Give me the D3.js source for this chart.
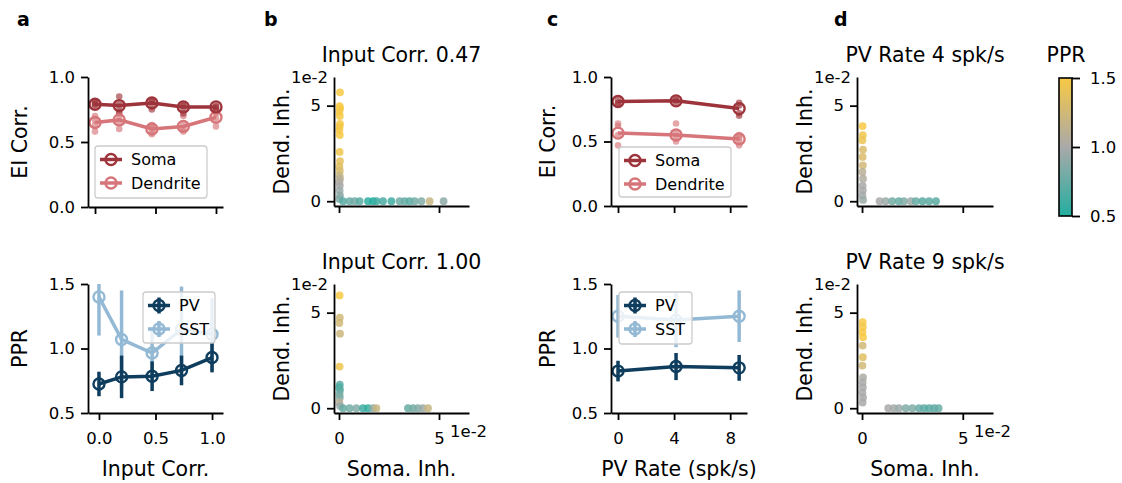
<!DOCTYPE html>
<html>
<head>
<meta charset="utf-8">
<script src="https://cdn.jsdelivr.net/npm/d3@7"></script>
<style>
  body { margin: 0; background: #fff; }
  text { font-family: "DejaVu Sans", sans-serif; fill: #000; }
  .axis path, .axis line { stroke: #000; stroke-width: 1.8; }
  .axis text { font-family: "DejaVu Sans", sans-serif; }
</style>
</head>
<body>
<script>
// ---- panel a: EI correlation / PPR vs input correlation
var inputCorr = [0, 0.2, 0.47, 0.73, 1.0];
var aSomaMean = [0.79, 0.78, 0.80, 0.77, 0.77];
var aDendMean = [0.65, 0.67, 0.60, 0.62, 0.69];
var aSomaTrials = [[0.78, 0.80, 0.81, 0.79], [0.73, 0.77, 0.85, 0.79], [0.75, 0.79, 0.82, 0.81], [0.72, 0.76, 0.78, 0.79], [0.75, 0.77, 0.78, 0.76]];
var aDendTrials = [[0.58, 0.63, 0.67, 0.70], [0.60, 0.66, 0.70, 0.72], [0.56, 0.58, 0.62, 0.63], [0.58, 0.60, 0.64, 0.70], [0.62, 0.68, 0.72, 0.73]];
var aPvMean = [0.725, 0.78, 0.785, 0.83, 0.93];
var aPvErr = [0.095, 0.165, 0.115, 0.115, 0.115];
var aSstMean = [1.40, 1.07, 0.965, 1.15, 1.11];
var aSstErr = [0.30, 0.38, 0.20, 0.33, 0.28];

// ---- panel c: EI correlation / PPR vs PV rate
var pvRate = [0, 4.14, 8.64];
var cSomaMean = [0.81, 0.815, 0.755];
var cDendMean = [0.565, 0.55, 0.52];
var cSomaTrials = [[0.79, 0.82, 0.80], [0.80, 0.83, 0.82], [0.80, 0.70, 0.72, 0.78]];
var cDendTrials = [[0.62, 0.64, 0.47, 0.55], [0.64, 0.50, 0.56, 0.54], [0.47, 0.55, 0.50, 0.53]];
var cPvMean = [0.825, 0.86, 0.85];
var cPvErr = [0.08, 0.105, 0.10];
var cSstMean = [1.25, 1.22, 1.25];
var cSstErr = [0.165, 0.21, 0.20];

// ---- panels b, d: [soma inh, dend inh, ppr] (x1e-2)
var scatterB1 = [[0.05,5.7,1.5],[0.03,4.98,1.5],[0.06,4.86,1.5],[0.02,4.68,1.48],[0.04,4.46,1.5],[0.05,4.04,1.5],[0.03,3.9,1.48],[0.02,3.72,1.48],[0.04,3.46,1.5],[0.03,2.58,1.45],[0.05,2.1,1.38],[0.02,1.82,1.35],[0.04,1.6,1.3],[0.03,1.35,1.2],[0.05,1.18,1.1],[0.02,1.0,1.05],[0.04,0.82,1.0],[0.03,0.56,0.95],[0.05,0.3,0.9],[0.02,0.12,0.85],
  [0.2,0,0.7],[0.53,0,0.75],[0.78,0,0.8],[1.03,0,0.7],[1.45,0,0.55],[1.7,0,0.5],[1.87,0,0.6],[2.2,0,0.65],[2.62,0,0.6],[3.03,0,0.78],[3.28,0,0.75],[3.53,0,0.7],[3.78,0,0.8],[4.12,0,0.85],[4.53,0,1.2],[5.23,0,0.9]];
var scatterB2 = [[0.03,5.9,1.5],[0.04,4.74,1.25],[0.02,4.46,1.25],[0.05,3.9,1.22],[0.03,2.18,1.45],[0.04,1.23,0.7],[0.02,1.09,0.65],[0.05,0.95,0.7],[0.03,0.74,0.8],[0.04,0.56,0.85],[0.02,0.3,1.1],[0.05,0.12,0.95],
  [0.2,0,0.75],[0.53,0,0.8],[0.87,0,0.85],[1.2,0,0.6],[1.45,0,0.55],[1.7,0,0.9],[1.87,0,1.2],[3.45,0,0.75],[3.7,0,0.8],[3.95,0,0.85],[4.2,0,0.95],[4.45,0,1.2]];
var scatterD1 = [[0.03,3.93,1.5],[0.04,3.46,1.45],[0.02,3.19,1.42],[0.05,2.7,1.3],[0.03,2.32,1.3],[0.04,1.88,1.25],[0.02,1.53,1.1],[0.05,1.18,1.05],[0.03,0.82,1.0],[0.04,0.56,1.0],[0.02,0.3,0.98],[0.05,0.07,0.95],
  [0.87,0,1.0],[1.17,0,0.95],[1.5,0,0.8],[1.83,0,0.75],[2.08,0,0.85],[2.42,0,0.95],[2.67,0,0.75],[3.0,0,0.7],[3.33,0,0.72],[3.67,0,0.7]];
var scatterD2 = [[0.03,4.5,1.5],[0.04,4.25,1.48],[0.02,3.98,1.5],[0.05,3.72,1.5],[0.03,3.28,1.25],[0.04,2.67,1.35],[0.02,2.23,1.25],[0.05,1.61,1.02],[0.03,1.35,1.0],[0.04,1.09,1.0],[0.02,0.82,1.0],[0.05,0.56,1.0],[0.03,0.3,1.0],
  [1.3,0,1.0],[1.58,0,0.98],[1.83,0,0.95],[2.17,0,0.85],[2.5,0,0.85],[2.83,0,0.75],[3.08,0,0.72],[3.33,0,0.7],[3.58,0,0.72],[3.8,0,0.75]];

var somaColor = "#9e343b", dendColor = "#d6767a", pvColor = "#0f3d5e", sstColor = "#93b9d5";
var pprColor = d3.scaleLinear().domain([0.5, 1.0, 1.5]).range(["#23ae9f", "#a9a9a9", "#f7c944"]);
var tickFont = 16.5, labelFont = 20.5;

var svg = d3.select("body").append("svg").attr("width", 1122).attr("height", 483);
var defs = svg.append("defs");
var clipN = 0;

function axes(o) {
  var x = d3.scaleLinear().domain(o.xd).range([o.left, o.right]);
  var y = d3.scaleLinear().domain(o.yd).range([o.bottom, o.top]);
  var id = "clip" + (clipN++);
  defs.append("clipPath").attr("id", id).append("rect")
    .attr("x", o.left).attr("y", o.top).attr("width", o.right - o.left).attr("height", o.bottom - o.top);
  var g = svg.append("g");
  var plot = g.append("g");
  var clipped = g.append("g").attr("clip-path", "url(#" + id + ")");
  var xa = d3.axisBottom(x).tickValues(o.xt).tickSize(7).tickSizeOuter(0).tickPadding(12)
    .tickFormat(o.xlab ? o.xf : function () { return ""; });
  g.append("g").attr("class", "axis").attr("transform", "translate(0," + o.bottom + ")").call(xa);
  var ya = d3.axisLeft(y).tickValues(o.yt).tickSize(7).tickSizeOuter(0).tickPadding(6).tickFormat(o.yf);
  g.append("g").attr("class", "axis").attr("transform", "translate(" + o.left + ",0)").call(ya);
  g.selectAll(".axis text").attr("font-size", tickFont);
  if (o.ylabel) {
    g.append("text").attr("transform", "translate(" + o.ylx + "," + (o.top + o.bottom) / 2 + ") rotate(-90)")
      .attr("text-anchor", "middle").attr("font-size", labelFont).text(o.ylabel);
  }
  if (o.xlabel) {
    g.append("text").attr("x", (o.left + o.right) / 2).attr("y", 476)
      .attr("text-anchor", "middle").attr("font-size", labelFont).text(o.xlabel);
  }
  if (o.title) {
    g.append("text").attr("x", (o.left + o.right) / 2).attr("y", o.top - 15)
      .attr("text-anchor", "middle").attr("font-size", labelFont).text(o.title);
  }
  return { x: x, y: y, g: g, plot: plot, clipped: clipped };
}

function corrPanel(ax, xs, somaMean, dendMean, somaTr, dendTr) {
  [[dendTr, dendColor], [somaTr, somaColor]].forEach(function (s) {
    var pts = [];
    s[0].forEach(function (arr, i) { arr.forEach(function (v) { pts.push([xs[i], v]); }); });
    ax.plot.selectAll(null).data(pts).enter().append("circle")
      .attr("cx", function (d) { return ax.x(d[0]); }).attr("cy", function (d) { return ax.y(d[1]); })
      .attr("r", 3.3).attr("fill", s[1]).attr("opacity", 0.65);
  });
  [[dendMean, dendColor], [somaMean, somaColor]].forEach(function (s) {
    var pts = xs.map(function (v, i) { return [v, s[0][i]]; });
    ax.plot.append("path").datum(pts)
      .attr("d", d3.line().x(function (d) { return ax.x(d[0]); }).y(function (d) { return ax.y(d[1]); }))
      .attr("fill", "none").attr("stroke", s[1]).attr("stroke-width", 3.5);
    ax.plot.selectAll(null).data(pts).enter().append("circle")
      .attr("cx", function (d) { return ax.x(d[0]); }).attr("cy", function (d) { return ax.y(d[1]); })
      .attr("r", 5.5).attr("fill", "none").attr("stroke", s[1]).attr("stroke-width", 2.4);
  });
}

function pprPanel(ax, xs, pvM, pvE, sstM, sstE) {
  [[sstM, sstE, sstColor], [pvM, pvE, pvColor]].forEach(function (s) {
    var pts = xs.map(function (v, i) { return [v, s[0][i], s[1][i]]; });
    ax.clipped.selectAll(null).data(pts).enter().append("line")
      .attr("x1", function (d) { return ax.x(d[0]); }).attr("x2", function (d) { return ax.x(d[0]); })
      .attr("y1", function (d) { return ax.y(d[1] - d[2]); }).attr("y2", function (d) { return ax.y(d[1] + d[2]); })
      .attr("stroke", s[2]).attr("stroke-width", 3.5);
    ax.clipped.append("path").datum(pts)
      .attr("d", d3.line().x(function (d) { return ax.x(d[0]); }).y(function (d) { return ax.y(d[1]); }))
      .attr("fill", "none").attr("stroke", s[2]).attr("stroke-width", 3.5);
    ax.clipped.selectAll(null).data(pts).enter().append("circle")
      .attr("cx", function (d) { return ax.x(d[0]); }).attr("cy", function (d) { return ax.y(d[1]); })
      .attr("r", 5.5).attr("fill", "none").attr("stroke", s[2]).attr("stroke-width", 2.4);
  });
}

function scatterPanel(ax, data) {
  ax.plot.selectAll(null).data(data).enter().append("circle")
    .attr("cx", function (d) { return ax.x(d[0]); }).attr("cy", function (d) { return ax.y(d[1]); })
    .attr("r", 3.9).attr("fill", function (d) { return pprColor(d[2]); }).attr("opacity", 0.85);
}

function legend(x0, y0, w, h, entries, cross) {
  var g = svg.append("g");
  g.append("rect").attr("x", x0).attr("y", y0).attr("width", w).attr("height", h).attr("rx", 3)
    .attr("fill", "#fff").attr("fill-opacity", 0.8).attr("stroke", "#cccccc").attr("stroke-width", 1.3);
  entries.forEach(function (e, i) {
    var cy = y0 + 13.5 + i * 23.5, cx = x0 + 16;
    g.append("line").attr("x1", cx - 11).attr("x2", cx + 11).attr("y1", cy).attr("y2", cy)
      .attr("stroke", e[1]).attr("stroke-width", 3.5);
    if (cross) {
      g.append("line").attr("x1", cx).attr("x2", cx).attr("y1", cy - 8).attr("y2", cy + 8)
        .attr("stroke", e[1]).attr("stroke-width", 3.5);
    }
    g.append("circle").attr("cx", cx).attr("cy", cy).attr("r", 5.5).attr("fill", "none")
      .attr("stroke", e[1]).attr("stroke-width", 2.4);
    g.append("text").attr("x", cx + 20).attr("y", cy).attr("dy", "0.36em").attr("font-size", 16).text(e[0]);
  });
}

var f1 = d3.format(".1f");
var fInt = d3.format("d");

// panel a
var aTop = axes({ left: 88, right: 223, top: 77, bottom: 207, xd: [-0.058, 1.058], yd: [0, 1], xt: [0, 0.5, 1], yt: [0, 0.5, 1],
  xf: f1, yf: f1, ylabel: "EI Corr.", ylx: 27 });
corrPanel(aTop, inputCorr, aSomaMean, aDendMean, aSomaTrials, aDendTrials);
var aBot = axes({ left: 88, right: 223, top: 284, bottom: 413, xd: [-0.097, 1.097], yd: [0.5, 1.5], xt: [0, 0.5, 1], yt: [0.5, 1, 1.5],
  xf: f1, yf: f1, xlab: true, ylabel: "PPR", ylx: 27, xlabel: "Input Corr." });
pprPanel(aBot, inputCorr, aPvMean, aPvErr, aSstMean, aSstErr);
legend(95, 146, 112, 52, [["Soma", somaColor], ["Dendrite", dendColor]], false);
legend(143, 292, 72, 51, [["PV", pvColor], ["SST", sstColor]], true);

// panel b
var sd = [-0.25, 6.5];
var bTop = axes({ left: 334, right: 469, top: 77, bottom: 206, xd: sd, yd: sd, xt: [0, 5], yt: [0, 5],
  xf: fInt, yf: fInt, ylabel: "Dend. Inh.", ylx: 289, title: "Input Corr. 0.47" });
scatterPanel(bTop, scatterB1);
var bBot = axes({ left: 334, right: 469, top: 284, bottom: 413, xd: sd, yd: sd, xt: [0, 5], yt: [0, 5],
  xf: fInt, yf: fInt, xlab: true, ylabel: "Dend. Inh.", ylx: 289, xlabel: "Soma. Inh.", title: "Input Corr. 1.00" });
scatterPanel(bBot, scatterB2);

// panel c
var cTop = axes({ left: 611, right: 747, top: 77, bottom: 206, xd: [-0.5, 9.2], yd: [0, 1], xt: [0, 4, 8], yt: [0, 0.5, 1],
  xf: fInt, yf: f1, ylabel: "EI Corr.", ylx: 555 });
corrPanel(cTop, pvRate, cSomaMean, cDendMean, cSomaTrials, cDendTrials);
var cBot = axes({ left: 611, right: 747, top: 284, bottom: 413, xd: [-0.5, 9.2], yd: [0.5, 1.5], xt: [0, 4, 8], yt: [0.5, 1, 1.5],
  xf: fInt, yf: f1, xlab: true, ylabel: "PPR", ylx: 555, xlabel: "PV Rate (spk/s)" });
pprPanel(cBot, pvRate, cPvMean, cPvErr, cSstMean, cSstErr);
legend(619, 147, 112, 50, [["Soma", somaColor], ["Dendrite", dendColor]], false);
legend(619, 292, 73, 52, [["PV", pvColor], ["SST", sstColor]], true);

// panel d
var dTop = axes({ left: 857, right: 993, top: 77, bottom: 206, xd: sd, yd: sd, xt: [0, 5], yt: [0, 5],
  xf: fInt, yf: fInt, ylabel: "Dend. Inh.", ylx: 812, title: "PV Rate 4 spk/s" });
scatterPanel(dTop, scatterD1);
var dBot = axes({ left: 857, right: 993, top: 284, bottom: 413, xd: sd, yd: sd, xt: [0, 5], yt: [0, 5],
  xf: fInt, yf: fInt, xlab: true, ylabel: "Dend. Inh.", ylx: 812, xlabel: "Soma. Inh.", title: "PV Rate 9 spk/s" });
scatterPanel(dBot, scatterD2);

// offset "1e-2" labels
[bTop, bBot, dTop, dBot].forEach(function (ax) {
  var l = ax.x.range()[0], r = ax.x.range()[1], t = ax.y.range()[1], b = ax.y.range()[0];
  ax.g.append("text").attr("x", l - 6).attr("y", t + 6).attr("text-anchor", "end").attr("font-size", tickFont).text("1e-2");
  if (ax === bBot || ax === dBot) {
    ax.g.append("text").attr("x", r - 19).attr("y", b + 24).attr("font-size", tickFont).text("1e-2");
  }
});

// colorbar
var cbY = d3.scaleLinear().domain([0.5, 1.5]).range([216, 78]);
var grad = defs.append("linearGradient").attr("id", "cbgrad").attr("x1", 0).attr("y1", 1).attr("x2", 0).attr("y2", 0);
[0.5, 0.75, 1.0, 1.25, 1.5].forEach(function (v) {
  grad.append("stop").attr("offset", (v - 0.5)).attr("stop-color", pprColor(v));
});
svg.append("rect").attr("x", 1059).attr("y", 78).attr("width", 13).attr("height", 138)
  .attr("fill", "url(#cbgrad)").attr("stroke", "#000").attr("stroke-width", 1.6);
svg.append("g").attr("class", "axis").attr("transform", "translate(1072,0)")
  .call(d3.axisRight(cbY).tickValues([0.5, 1, 1.5]).tickSize(8).tickSizeOuter(0).tickPadding(10).tickFormat(f1))
  .call(function (g) { g.select(".domain").remove(); g.selectAll("text").attr("font-size", tickFont); });
svg.append("text").attr("x", 1066).attr("y", 62).attr("text-anchor", "middle").attr("font-size", labelFont).text("PPR");

// panel letters
[["a", 17], ["b", 264], ["c", 547], ["d", 834]].forEach(function (p) {
  svg.append("text").attr("x", p[1]).attr("y", 26).attr("font-size", 19).attr("font-weight", "bold").text(p[0]);
});
</script>
</body>
</html>
